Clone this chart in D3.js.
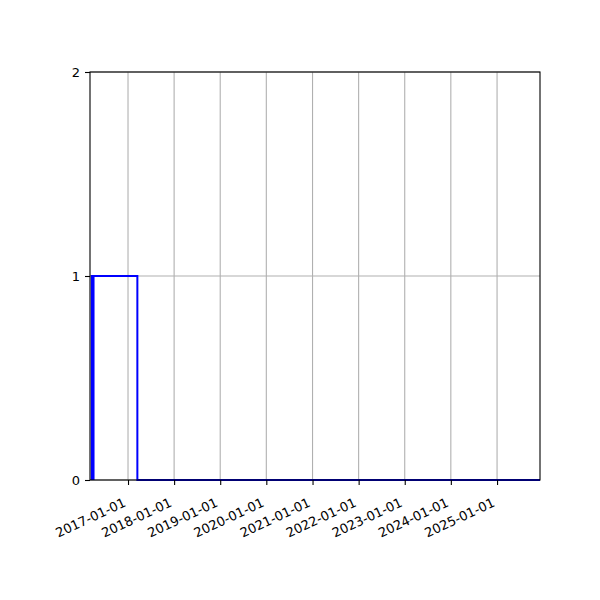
<!DOCTYPE html>
<html>
<head>
<meta charset="utf-8">
<script src="https://cdn.jsdelivr.net/npm/d3@7"></script>
<style>
  body { margin: 0; background: #fff; }
  svg text { font-family: "DejaVu Sans", sans-serif; }
</style>
</head>
<body>
<div id="chart"></div>
<script>
// step series: dates where the value changes, and the value from that date on
var stepDates = ["2016-03-20", "2016-04-03", "2017-03-16", "2025-12-07"];
var stepValues = [1, 1, 0, 0];
var xDomain = ["2016-03-06", "2025-12-07"];
var xTickYears = [2017, 2018, 2019, 2020, 2021, 2022, 2023, 2024, 2025];
var yTicks = [0, 1, 2];

var parse = d3.timeParse("%Y-%m-%d");
var fmt = d3.timeFormat("%Y-%m-%d");

var width = 600, height = 600;
var margin = { top: 72, right: 60, bottom: 120, left: 90 };
var w = width - margin.left - margin.right;
var h = height - margin.top - margin.bottom;

var svg = d3.select("#chart").append("svg").attr("width", width).attr("height", height);
var g = svg.append("g").attr("transform", "translate(" + margin.left + "," + margin.top + ")");

var x = d3.scaleTime().domain(xDomain.map(parse)).range([0, w]);
var y = d3.scaleLinear().domain([0, 2]).range([h, 0]);

var xTicks = xTickYears.map(function (yr) { return new Date(yr, 0, 1); });

// grid
g.append("g").selectAll("line").data(xTicks).enter().append("line")
    .attr("x1", function (d) { return x(d); }).attr("x2", function (d) { return x(d); })
    .attr("y1", 0).attr("y2", h)
    .attr("stroke", "#b0b0b0").attr("stroke-width", 1.1);
g.append("g").selectAll("line").data(yTicks).enter().append("line")
    .attr("x1", 0).attr("x2", w)
    .attr("y1", function (d) { return y(d); }).attr("y2", function (d) { return y(d); })
    .attr("stroke", "#b0b0b0").attr("stroke-width", 1.1);

// each change to 1 is drawn as a rise from 0, each segment is closed at the next change
var path = [];
for (var i = 0; i < stepDates.length; i++) {
    var d = parse(stepDates[i]);
    if (i > 0) path.push({ t: d, v: stepValues[i - 1] });
    if (stepValues[i] === 1) path.push({ t: d, v: 0 });
    path.push({ t: d, v: stepValues[i] });
}

var line = d3.line()
    .x(function (d) { return x(d.t); })
    .y(function (d) { return y(d.v); });

g.append("path")
    .datum(path)
    .attr("fill", "none")
    .attr("stroke", "#0000ff")
    .attr("stroke-width", 2)
    .attr("d", line);

// axes
var xAxis = d3.axisBottom(x).tickValues(xTicks).tickFormat(fmt).tickSizeOuter(0).tickSize(5).tickPadding(5);
var yAxis = d3.axisLeft(y).tickValues(yTicks).tickFormat(d3.format("d")).tickSizeOuter(0).tickSize(5).tickPadding(5);

var gx = g.append("g").attr("transform", "translate(0," + h + ")").call(xAxis);
gx.select(".domain").remove();
gx.selectAll("line").attr("stroke", "#000").attr("stroke-width", 1.1);
gx.selectAll("text")
    .attr("font-size", 13)
    .attr("fill", "#000")
    .attr("y", 0).attr("x", 0).attr("dy", "0.75em")
    .attr("transform", "translate(-6,17) rotate(-25)")
    .style("text-anchor", "end");

var gy = g.append("g").call(yAxis);
gy.select(".domain").remove();
gy.selectAll("line").attr("stroke", "#000").attr("stroke-width", 1.1);
gy.selectAll("text").attr("font-size", 13).attr("fill", "#000");

// frame
g.append("rect").attr("x", 0).attr("y", 0).attr("width", w).attr("height", h)
    .attr("fill", "none").attr("stroke", "#000").attr("stroke-width", 1.1);
</script>
</body>
</html>
